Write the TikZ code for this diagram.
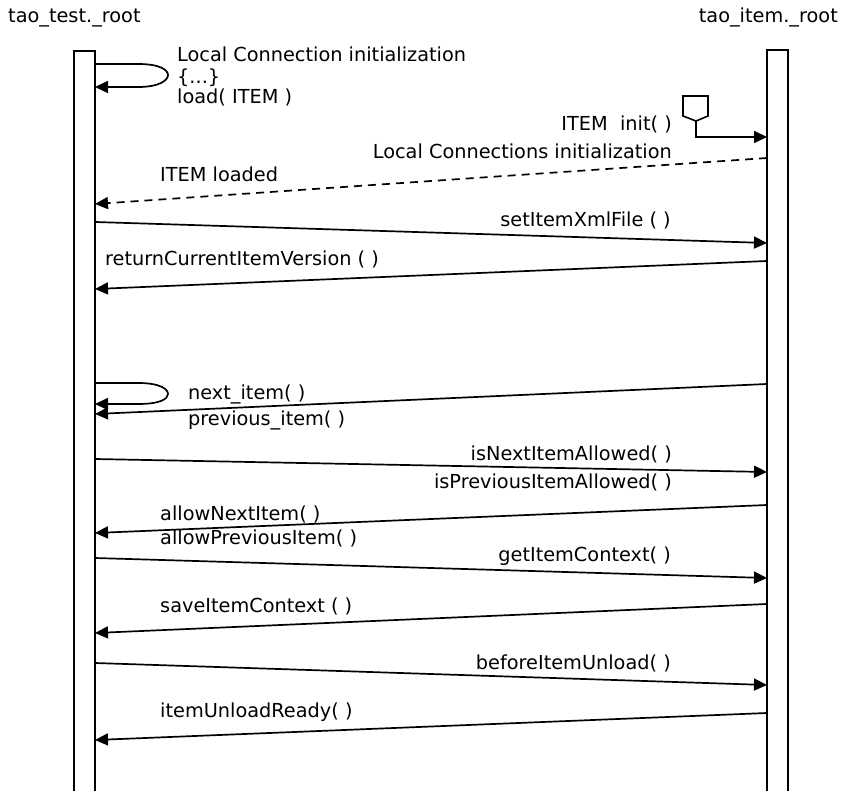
\documentclass[tikz,border=0pt]{standalone}
\usepackage{fontspec}
\setmainfont{DejaVu Sans}
\usetikzlibrary{arrows.meta}
\begin{document}
\begin{tikzpicture}[x=1pt,y=-1pt,
  lifeline/.style={draw,line width=1.8pt,minimum width=21pt,inner sep=0pt,outer sep=0pt},
  msg/.style={line width=1.7pt,-{Triangle[length=13pt,width=12pt]}},
  ret/.style={msg,dash pattern=on 8pt off 6pt},
  lbl/.style={inner sep=0pt,font=\fontsize{19.3}{22}\selectfont,text=black}]
\useasboundingbox (0,0) rectangle (845,791);
\fill[white] (0,0) rectangle (845,791);
% lifelines
\node[lifeline,minimum height=750pt] (L) at (84.5,426) {};
\node[lifeline,minimum height=752pt] (R) at (777.5,426) {};
% headings
\node[lbl,anchor=base west] (hL) at (8,23) {tao\_test.\_root};
\node[lbl,anchor=base east] (hR) at (838,23) {tao\_item.\_root};
% self loop 1
\draw[msg] (L.east |- 0,64) -- (138,64) .. controls (160,64) and (168,70) .. (168,75)
  .. controls (168,80) and (160,87) .. (138,87) -- (L.east |- 0,87);
\node[lbl,anchor=base west] (t1) at (177,62) {Local Connection initialization};
\node[lbl,anchor=base west] (t2) at (177,84) {\{...\}};
\node[lbl,anchor=base west] (t3) at (177,104) {load( ITEM )};
% init
\draw[line width=1.6pt] (683,96) -- (708,96) -- (708,116) -- (696,121) -- (683,116) -- cycle;
\coordinate (init) at (696,121);
\draw[msg] (init) -- (init |- 0,137) -- (R.west |- 0,137);
\node[lbl,anchor=base east] (t4) at (672,131) {ITEM\ \ init( )};
% dashed return
\draw[ret] (R.west |- 0,158) -- (L.east |- 0,204);
\node[lbl,anchor=base east] (t5) at (672,159) {Local Connections initialization};
\node[lbl,anchor=base west] (t6) at (160,182) {ITEM loaded};
% messages
\draw[msg] (L.east |- 0,222) -- (R.west |- 0,243);
\node[lbl,anchor=base east] (t7) at (671,227) {setItemXmlFile ( )};
\draw[msg] (R.west |- 0,261) -- (L.east |- 0,289);
\node[lbl,anchor=base west] (t8) at (105,266) {returnCurrentItemVersion ( )};
% self loop 2
\draw[msg] (L.east |- 0,383) -- (138,383) .. controls (160,383) and (168,389) .. (168,394)
  .. controls (168,399) and (160,404) .. (138,404) -- (L.east |- 0,404);
\draw[msg] (R.west |- 0,384) -- (L.east |- 0,414);
\node[lbl,anchor=base west] (t9) at (188,399) {next\_item( )};
\node[lbl,anchor=base west] (t10) at (188,425) {previous\_item( )};
\draw[msg] (L.east |- 0,459) -- (R.west |- 0,472);
\node[lbl,anchor=base east] (t11) at (672,460) {isNextItemAllowed( )};
\node[lbl,anchor=base east] (t12) at (672,488) {isPreviousItemAllowed( )};
\draw[msg] (R.west |- 0,505) -- (L.east |- 0,533);
\node[lbl,anchor=base west] (t13) at (160,520) {allowNextItem( )};
\node[lbl,anchor=base west] (t14) at (160,544) {allowPreviousItem( )};
\draw[msg] (L.east |- 0,558) -- (R.west |- 0,578);
\node[lbl,anchor=base east] (t15) at (671,561) {getItemContext( )};
\draw[msg] (R.west |- 0,604) -- (L.east |- 0,633);
\node[lbl,anchor=base west] (t16) at (160,612) {saveItemContext ( )};
\draw[msg] (L.east |- 0,663) -- (R.west |- 0,685);
\node[lbl,anchor=base east] (t17) at (671,669) {beforeItemUnload( )};
\draw[msg] (R.west |- 0,713) -- (L.east |- 0,740);
\node[lbl,anchor=base west] (t18) at (160,717) {itemUnloadReady( )};
\end{tikzpicture}
\end{document}
